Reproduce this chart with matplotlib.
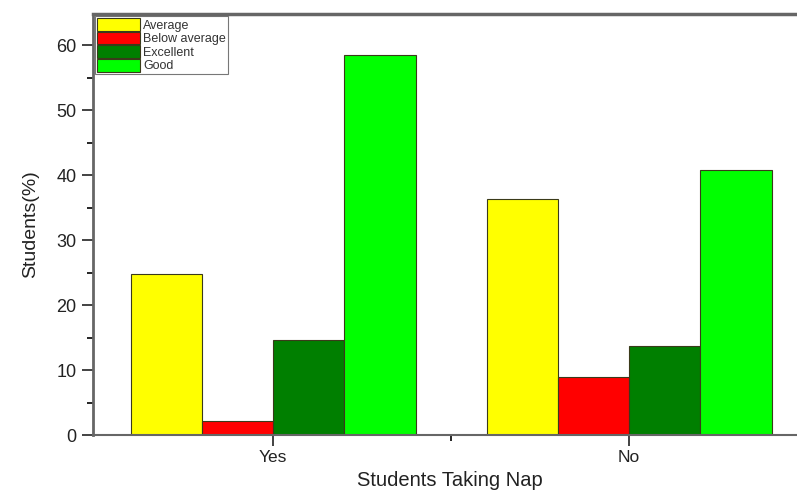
import numpy as np
import matplotlib.pyplot as plt

plt.rcParams['font.family'] = ['Liberation Sans', 'DejaVu Sans']

groups = ['Yes', 'No']
labels = ['Average', 'Below average', 'Excellent', 'Good']
colors = ['#ffff00', '#ff0000', '#007f00', '#00ff00']
values = {
    'Average': [24.8, 36.3],
    'Below average': [2.1, 8.9],
    'Excellent': [14.6, 13.7],
    'Good': [58.5, 40.8],
}

fig = plt.figure(figsize=(7.97, 4.99), dpi=100)
ax = fig.add_axes([0.1167, 0.128, 0.896, 0.844])

x = np.arange(len(groups))
w = 0.2
for i, (lab, col) in enumerate(zip(labels, colors)):
    ax.bar(x + (i - 1.5) * w, values[lab], w, color=col, edgecolor='#3a3a1a',
           linewidth=0.8, label=lab)

ax.set_xlim(-0.506, 1.5)
ax.set_ylim(0, 64.8)
ax.set_xticks(x)
ax.set_xticklabels(groups)
ax.set_xticks([0.5], minor=True)
ax.set_yticks(np.arange(0, 61, 10))
ax.set_yticks(np.arange(5, 61, 10), minor=True)
ax.tick_params(axis='both', which='major', direction='out', length=8, width=1.2,
               labelsize=13, colors='#222222', pad=4)
ax.tick_params(axis='both', which='minor', direction='out', length=4, width=1.2)
ax.tick_params(axis='x', which='major', labelsize=12.5, pad=3)

for side in ['left', 'bottom', 'top']:
    ax.spines[side].set_color('#666666')
ax.spines['left'].set_linewidth(2)
ax.spines['top'].set_linewidth(2.5)
ax.spines['bottom'].set_linewidth(1.5)
ax.spines['right'].set_visible(False)

ax.set_ylabel('Students(%)', fontsize=14, labelpad=12, color='#222222')
ax.set_xlabel('Students Taking Nap', fontsize=14.5, labelpad=4, color='#222222')

leg = ax.legend(loc='upper left', bbox_to_anchor=(0.003, 0.995), fontsize=9,
                frameon=True, fancybox=False, edgecolor='#555555',
                handlelength=3.4, handleheight=1.2, labelspacing=0.0,
                borderpad=0.15, borderaxespad=0, handletextpad=0.3)
leg.get_frame().set_linewidth(0.8)
for t in leg.get_texts():
    t.set_color('#333333')

fig.savefig('out.png', dpi=100)
